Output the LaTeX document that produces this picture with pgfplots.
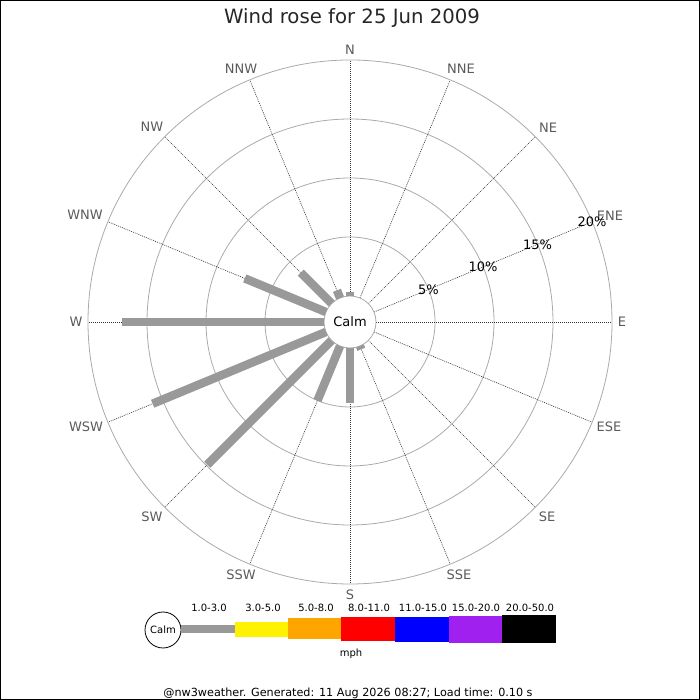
\documentclass[border=0pt]{standalone}
\usepackage{pgfplots}
\usepackage{pgfplotstable}
\pgfplotsset{compat=1.18}
\usepackage{fontspec}
\setmainfont{DejaVu Sans}

\definecolor{bargray}{HTML}{999999}
\definecolor{ringgray}{HTML}{AAAAAA}
\definecolor{labgray}{HTML}{5A5A5A}
\definecolor{spoke}{HTML}{333333}
\definecolor{lorange}{HTML}{FFA500}
\definecolor{lpurple}{HTML}{A020F0}

% direction, math angle (deg), share of time (%)
\pgfplotstableread{
dir a p
N 90 0.35
NNE 67.5 0
NE 45 0
ENE 22.5 0
E 0 0
ESE -22.5 0
SE -45 0
SSE -67.5 0.3
S -90 4.65
SSW -112.5 5.0
SW -135 14.9
WSW -157.5 15.9
W 180 17.1
WNW 157.5 7.45
NW 135 3.7
NNW 112.5 0.7
}\windtable

\begin{document}
\begin{tikzpicture}
\path[use as bounding box] (0,0) rectangle (700pt,700pt);
\draw[black, line width=1pt] (0.5pt,0.5pt) rectangle (699.5pt,699.5pt);

% polar grid, centre of rose at pixel (350,322)
\begin{scope}[shift={(350pt,378pt)}]
  \foreach \r in {85,144,203,262}
    \draw[ringgray, line width=0.8pt] (0,0) circle[radius=\r pt];
  \foreach \a in {0,22.5,...,337.5}
    \draw[spoke, line width=0.6pt, dash pattern=on 1pt off 1pt] (\a:26pt) -- (\a:262pt);
  \draw[ringgray, fill=white, line width=0.8pt] (0,0) circle[radius=26pt];
\end{scope}

% compass labels (pixel positions, y measured from the top)
\begin{scope}[x=1pt, y=-1pt, yshift=700pt]
  \foreach \x/\y/\t in {350/50/N,461/69/NNE,548/128/NE,610/216/ENE,622/322/E,
      609/427/ESE,547/517/SE,459/575/SSE,350/595/S,241/575/SSW,152/517/SW,
      86/427/WSW,76/322/W,85/215/WNW,152/127/NW,241/69/NNW}
    \node[labgray, inner sep=0pt, font=\fontsize{13}{13}\selectfont] at (\x,\y) {\t};
\end{scope}

\begin{axis}[
  at={(0,0)}, anchor=south west,
  scale only axis, width=700pt, height=700pt,
  xmin=-350, xmax=350, ymin=-378, ymax=322,
  hide axis, clip=false]
\addplot[bargray, line width=8.5pt, line cap=butt,
  quiver={u={11.8*\thisrow{p}*cos(\thisrow{a})},
          v={11.8*\thisrow{p}*sin(\thisrow{a})}}]
  table[x expr={26*cos(\thisrow{a})}, y expr={26*sin(\thisrow{a})}] {\windtable};
\end{axis}

\begin{scope}[shift={(350pt,378pt)}, font=\fontsize{13}{13}\selectfont]
  \node at (0,0) {Calm};
  \node at (22.5:85pt) {5\%};
  \node at (22.5:144pt) {10\%};
  \node at (22.5:203pt) {15\%};
  \node at (22.5:262pt) {20\%};
\end{scope}

% title and footer
\node[anchor=base, font=\fontsize{19.7}{21}\selectfont, text=black!85] at (352pt,676pt) {Wind rose for 25 Jun 2009};
\node[anchor=base, inner sep=0pt, font=\fontsize{11.2}{12}\selectfont] at (348pt,3.5pt) {@nw3weather. Generated: 11 Aug 2026 08:27; Load time: 0.10 s};

% speed legend
\begin{scope}[font=\fontsize{10}{11}\selectfont]
  \draw[black, line width=0.8pt, fill=white] (163pt,70pt) circle[radius=18pt];
  \node at (163pt,70pt) {Calm};
  \fill[bargray] (181pt,67pt) rectangle (235pt,75pt);
  \fill[yellow] (235pt,63pt) rectangle (288pt,78pt);
  \fill[lorange] (288pt,61pt) rectangle (341pt,82pt);
  \fill[red] (341pt,59pt) rectangle (395pt,83pt);
  \fill[blue] (395pt,58pt) rectangle (449pt,83pt);
  \fill[lpurple] (449pt,57pt) rectangle (502pt,84pt);
  \fill[black] (502pt,57pt) rectangle (556pt,85pt);
  \node at (209pt,92.5pt) {1.0-3.0};
  \node at (263pt,92.5pt) {3.0-5.0};
  \node at (316pt,92.5pt) {5.0-8.0};
  \node at (369pt,92.5pt) {8.0-11.0};
  \node at (423pt,92.5pt) {11.0-15.0};
  \node at (476pt,92.5pt) {15.0-20.0};
  \node at (530pt,92.5pt) {20.0-50.0};
  \node at (351pt,46pt) {mph};
\end{scope}
\end{tikzpicture}
\end{document}
